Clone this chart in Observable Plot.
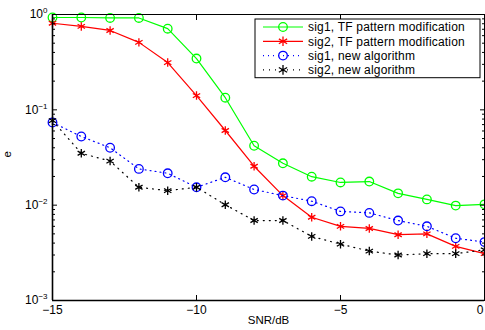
<!DOCTYPE html>
<html><head><meta charset="utf-8">
<script src="https://cdn.jsdelivr.net/npm/d3@7"></script>
<script src="https://cdn.jsdelivr.net/npm/@observablehq/plot@0.6"></script>
<style>body{margin:0;background:#fff;font-family:"Liberation Sans",Arial,sans-serif}</style>
</head><body><div id="chart"></div>
<script>
const snr = [-15,-14,-13,-12,-11,-10,-9,-8,-7,-6,-5,-4,-3,-2,-1,0];
const sig1TF  = [0.93,0.93,0.92,0.92,0.71,0.345,0.134,0.042,0.0275,0.0199,0.0173,0.0177,0.0133,0.0115,0.0099,0.0102];
const sig2TF  = [0.81,0.75,0.68,0.51,0.313,0.141,0.0607,0.0256,0.0126,0.00746,0.0060,0.0057,0.0049,0.0050,0.0037,0.0031];
const sig1New = [0.0736,0.0525,0.040,0.024,0.0216,0.0154,0.0196,0.0146,0.0126,0.011,0.0086,0.0083,0.0069,0.0060,0.0045,0.0041];
const sig2New = [0.077,0.035,0.029,0.0154,0.0142,0.0154,0.0101,0.0069,0.0069,0.0047,0.0039,0.0033,0.0030,0.0031,0.0031,0.0034];
const seriesNames = ["sig1, TF pattern modification","sig2, TF pattern modification","sig1, new algorithm","sig2, new algorithm"];
const seriesValues = [sig1TF, sig2TF, sig1New, sig2New];
const xTicks = [-15,-10,-5,0];
const yTicks = [1e-3,1e-2,1e-1,1];
const xLabel = "SNR/dB";
const yLabel = "e";

const colors = ["#00ff00","#ff0000","#0000ff","#000000"];
const dashes = [null,null,"1,4","1,5"];
const symbols = ["circle","asterisk","circle","asterisk"];

const data = seriesNames.flatMap((name,i)=>snr.map((x,j)=>({series:name, idx:i, x, y:seriesValues[i][j]})));
const yMinor = [];
for (const d of [1e-3,1e-2,1e-1]) for (let m=2;m<=9;m++) yMinor.push(d*m);

const W=485, H=330, mL=52, mT=14, mR=1, mB=30;
const font = 'Liberation Sans, Arial, sans-serif';

const marks = [];
seriesNames.forEach((name,i)=>{
  const sub = data.filter(d=>d.idx===i);
  marks.push(Plot.line(sub,{x:"x",y:"y",stroke:colors[i],strokeWidth:1.2,strokeDasharray:dashes[i]}));
  marks.push(Plot.dot(sub,{x:"x",y:"y",stroke:colors[i],fill:"none",symbol:symbols[i],r:symbols[i]==="circle"?4.3:4,strokeWidth:1.3}));
});

const chart = Plot.plot({
  width:W, height:H, marginLeft:mL, marginTop:mT, marginRight:mR, marginBottom:mB,
  style:{fontFamily:font, fontSize:"12px", background:"#fff", color:"#000"},
  x:{domain:[-15,0]},
  y:{type:"log", domain:[1e-3,1]},
  marks:[
    ...marks,
    Plot.frame({stroke:"#000", strokeWidth:1}),
    Plot.ruleX([-15],{stroke:"#000", strokeWidth:1.6}),
    Plot.ruleY([1e-3],{stroke:"#000", strokeWidth:1.6}),
    Plot.axisY({anchor:"left", ticks:yTicks, tickSize:-5, tickPadding:10, tickFormat:d=>String(Math.round(Math.log10(d))), label:null, fontSize:12}),
    Plot.axisY({anchor:"left", ticks:yMinor, tickSize:-3, tickFormat:()=>"", label:null}),
    Plot.axisY({anchor:"right", ticks:yTicks, tickSize:-5, tickFormat:()=>"", label:null}),
    Plot.axisY({anchor:"right", ticks:yMinor, tickSize:-3, tickFormat:()=>"", label:null}),
    Plot.axisX({anchor:"bottom", ticks:xTicks, tickSize:-5, tickPadding:10, tickFormat:d=>d<0?"\u2212"+Math.abs(d):String(d), label:null, fontSize:12}),
    Plot.axisX({anchor:"top", ticks:xTicks, tickSize:-5, tickFormat:()=>"", label:null}),
    Plot.text([xLabel],{frameAnchor:"bottom", dy:23, fontSize:11.5, text:d=>d}),
    Plot.text([yLabel],{frameAnchor:"left", dx:-45, rotate:-90, fontSize:11.5, text:d=>d})
  ]
});
document.getElementById("chart").appendChild(chart);

const svg = d3.select(chart);
// superscript exponents on y tick labels
svg.selectAll('g[aria-label="y-axis tick label"] text').each(function(){
  const t = d3.select(this); const e = t.text();
  if (e==="") return;
  const exp = (+e<0?"\u2212":"")+Math.abs(+e);
  t.text("10");
  t.append("tspan").attr("dy","-5").attr("font-size","8").text(exp);
});
// keep the last x label inside the picture
const xl = svg.selectAll('g[aria-label="x-axis tick label"] text').nodes().filter(n=>n.textContent!=="");
if (xl.length) d3.select(xl[xl.length-1]).attr("text-anchor","end").attr("dx", -1);

// legend
const lgRight = W - mR - 4, lgTop = mT + 5, lgW = 225, rowH = 14.3;
const lg = svg.append("g").attr("font-family",font).attr("font-size",12).attr("text-anchor","start");
lg.append("rect").attr("x",lgRight-lgW).attr("y",lgTop).attr("width",lgW).attr("height",rowH*4+1.5)
  .style("fill","#fff").style("stroke","#000").style("stroke-width","1px");
seriesNames.forEach((name,i)=>{
  const cy = lgTop + 8 + i*rowH;
  const x0 = lgRight-lgW+8, x1 = x0+40, xm=(x0+x1)/2;
  lg.append("line").attr("x1",x0).attr("x2",x1).attr("y1",cy).attr("y2",cy)
    .attr("stroke",colors[i]).attr("stroke-width",1.2).attr("stroke-dasharray",dashes[i]);
  if (symbols[i]==="circle") lg.append("circle").attr("cx",xm).attr("cy",cy).attr("r",4.3).attr("fill","none").attr("stroke",colors[i]).attr("stroke-width",1.3);
  else lg.append("path").attr("transform",`translate(${xm},${cy})`).attr("d",d3.symbol(d3.symbolAsterisk,64)()).attr("fill","none").attr("stroke",colors[i]).attr("stroke-width",1.3);
  lg.append("text").attr("x",x1+5).attr("y",cy).attr("dy","0.35em").attr("letter-spacing","0.2").style("fill","#000").text(name);
});
</script></body></html>
